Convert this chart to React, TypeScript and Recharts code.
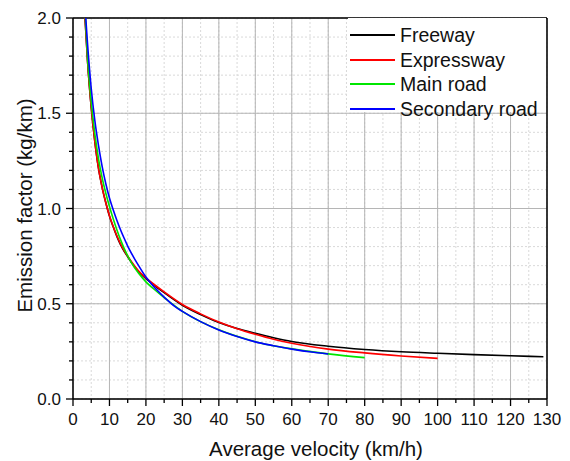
import React from 'react';
import { LineChart, Line, XAxis, YAxis, CartesianGrid, ReferenceLine, Legend } from 'recharts';

const xTicks = [0, 5, 10, 15, 20, 25, 30, 35, 40, 45, 50, 55, 60, 65, 70, 75, 80, 85, 90, 95, 100, 105, 110, 115, 120, 125, 130];
const xMajor = [0, 10, 20, 30, 40, 50, 60, 70, 80, 90, 100, 110, 120, 130];
const yTicks = [0, 0.1, 0.2, 0.3, 0.4, 0.5, 0.6, 0.7, 0.8, 0.9, 1.0, 1.1, 1.2, 1.3, 1.4, 1.5, 1.6, 1.7, 1.8, 1.9, 2.0];
const yMajor = [0, 0.5, 1.0, 1.5, 2.0];

const freeway = [
  { v: 3.3, e: 2.0 }, { v: 4, e: 1.77 }, { v: 5, e: 1.53 }, { v: 6, e: 1.35 }, { v: 7, e: 1.21 },
  { v: 8, e: 1.11 }, { v: 9, e: 1.03 }, { v: 10, e: 0.96 }, { v: 11, e: 0.905 }, { v: 12, e: 0.855 },
  { v: 13, e: 0.812 }, { v: 14, e: 0.777 }, { v: 15, e: 0.747 }, { v: 16, e: 0.718 }, { v: 18, e: 0.668 },
  { v: 20, e: 0.632 }, { v: 22, e: 0.601 }, { v: 25, e: 0.558 }, { v: 30, e: 0.492 }, { v: 35, e: 0.443 },
  { v: 40, e: 0.401 }, { v: 45, e: 0.37 }, { v: 50, e: 0.345 }, { v: 55, e: 0.322 }, { v: 60, e: 0.302 },
  { v: 70, e: 0.277 }, { v: 80, e: 0.26 }, { v: 90, e: 0.248 }, { v: 100, e: 0.24 }, { v: 110, e: 0.233 },
  { v: 120, e: 0.227 }, { v: 129, e: 0.222 },
];

const expressway = [
  { v: 3.3, e: 2.0 }, { v: 4, e: 1.77 }, { v: 5, e: 1.53 }, { v: 6, e: 1.35 }, { v: 7, e: 1.21 },
  { v: 8, e: 1.11 }, { v: 9, e: 1.03 }, { v: 10, e: 0.962 }, { v: 11, e: 0.907 }, { v: 12, e: 0.858 },
  { v: 13, e: 0.816 }, { v: 14, e: 0.78 }, { v: 15, e: 0.75 }, { v: 16, e: 0.722 }, { v: 18, e: 0.672 },
  { v: 20, e: 0.636 }, { v: 22, e: 0.605 }, { v: 25, e: 0.562 }, { v: 30, e: 0.496 }, { v: 35, e: 0.447 },
  { v: 40, e: 0.404 }, { v: 45, e: 0.369 }, { v: 50, e: 0.34 }, { v: 55, e: 0.314 }, { v: 60, e: 0.293 },
  { v: 70, e: 0.262 }, { v: 80, e: 0.242 }, { v: 90, e: 0.226 }, { v: 100, e: 0.213 },
];

const mainRoad = [
  { v: 3.4, e: 2.0 }, { v: 4, e: 1.79 }, { v: 5, e: 1.56 }, { v: 6, e: 1.39 }, { v: 7, e: 1.26 },
  { v: 8, e: 1.16 }, { v: 9, e: 1.08 }, { v: 10, e: 1.01 }, { v: 11, e: 0.947 }, { v: 12, e: 0.89 },
  { v: 13, e: 0.838 }, { v: 14, e: 0.792 }, { v: 15, e: 0.752 }, { v: 16, e: 0.716 }, { v: 18, e: 0.66 },
  { v: 20, e: 0.615 }, { v: 22, e: 0.58 }, { v: 25, e: 0.532 }, { v: 30, e: 0.46 }, { v: 35, e: 0.406 },
  { v: 40, e: 0.363 }, { v: 50, e: 0.301 }, { v: 60, e: 0.263 }, { v: 70, e: 0.237 }, { v: 80, e: 0.217 },
];

const secondaryRoad = [
  { v: 3.5, e: 2.0 }, { v: 4, e: 1.86 }, { v: 5, e: 1.63 }, { v: 6, e: 1.46 }, { v: 7, e: 1.33 },
  { v: 8, e: 1.22 }, { v: 9, e: 1.13 }, { v: 10, e: 1.055 }, { v: 11, e: 0.995 }, { v: 12, e: 0.94 },
  { v: 13, e: 0.89 }, { v: 14, e: 0.845 }, { v: 15, e: 0.803 }, { v: 16, e: 0.766 }, { v: 17, e: 0.732 },
  { v: 18, e: 0.7 }, { v: 20, e: 0.64 }, { v: 22, e: 0.593 }, { v: 25, e: 0.535 }, { v: 28, e: 0.485 },
  { v: 30, e: 0.46 }, { v: 35, e: 0.406 }, { v: 40, e: 0.362 }, { v: 45, e: 0.328 }, { v: 50, e: 0.3 },
  { v: 55, e: 0.28 }, { v: 60, e: 0.262 }, { v: 65, e: 0.248 }, { v: 70, e: 0.236 },
];

const series = [
  { name: 'Freeway', color: '#000000', data: freeway },
  { name: 'Expressway', color: '#ff0000', data: expressway },
  { name: 'Main road', color: '#00e600', data: mainRoad },
  { name: 'Secondary road', color: '#0000ff', data: secondaryRoad },
];

const FONT = '"Liberation Sans", Arial, Helvetica, sans-serif';
const TXT = '#111111';

const XTick = (props: any) => {
  const { x, y, payload } = props;
  const major = xMajor.some((m) => Math.abs(m - payload.value) < 1e-6);
  return (
    <g>
      <line x1={x} x2={x} y1={y} y2={y + (major ? 7 : 4)} stroke="#000" strokeWidth={1.3} />
      {major && (
        <text x={x} y={y + 26} textAnchor="middle" fontSize={17} fontFamily={FONT} fill={TXT}>
          {payload.value}
        </text>
      )}
    </g>
  );
};

const YTick = (props: any) => {
  const { x, y, payload } = props;
  const major = yMajor.some((m) => Math.abs(m - payload.value) < 1e-6);
  return (
    <g>
      <line x1={x - (major ? 7 : 4)} x2={x} y1={y} y2={y} stroke="#000" strokeWidth={1.3} />
      {major && (
        <text x={x - 12} y={y + 6} textAnchor="end" fontSize={17} fontFamily={FONT} fill={TXT}>
          {Number(payload.value).toFixed(1)}
        </text>
      )}
    </g>
  );
};

const XTitle = (props: any) => {
  const vb = props.viewBox || { x: 73, y: 399, width: 474, height: 62 };
  return (
    <text x={vb.x + vb.width / 2 + 6} y={vb.y + 57} textAnchor="middle" fontSize={20.5} fontFamily={FONT} fill={TXT}>
      Average velocity (km/h)
    </text>
  );
};

const YTitle = (props: any) => {
  const vb = props.viewBox || { x: 0, y: 18, width: 73, height: 381 };
  const cx = vb.x + 32;
  const cy = vb.y + vb.height / 2 - 3;
  return (
    <text x={cx} y={cy} transform={`rotate(-90, ${cx}, ${cy})`} textAnchor="middle" fontSize={20.5} fontFamily={FONT} fill={TXT}>
      Emission factor (kg/km)
    </text>
  );
};

const LegendBox = () => (
  <div style={{ background: '#fff', width: 198, height: 94, paddingTop: 5, boxSizing: 'border-box', fontFamily: FONT }}>
    {series.map((s) => (
      <div key={s.name} style={{ display: 'flex', alignItems: 'center', height: 24.5 }}>
        <div style={{ width: 45, height: 1.6, background: s.color, marginLeft: 2, marginRight: 5 }} />
        <span style={{ fontSize: 19.5, color: TXT, lineHeight: '24px', whiteSpace: 'nowrap' }}>{s.name}</span>
      </div>
    ))}
  </div>
);

export default function App() {
  return (
    <div style={{ position: 'absolute', left: 0, top: 0, width: 570, height: 461, background: '#fff' }}>
      <LineChart width={570} height={461} margin={{ top: 18, right: 23, bottom: 0, left: 0 }}>
        <CartesianGrid verticalValues={xTicks} horizontalValues={yTicks} stroke="#d9d9d9" strokeDasharray="2 2" />
        <CartesianGrid verticalValues={xMajor} horizontalValues={yMajor} stroke="#b5b5b5" />
        <XAxis
          type="number"
          dataKey="v"
          domain={[0, 130]}
          ticks={xTicks}
          interval={0}
          allowDataOverflow
          height={62}
          tickSize={0}
          tickMargin={0}
          tickLine={false}
          tick={<XTick />}
          axisLine={{ stroke: '#000', strokeWidth: 1.5 }}
          label={<XTitle />}
        />
        <YAxis
          type="number"
          dataKey="e"
          domain={[0, 2]}
          ticks={yTicks}
          interval={0}
          allowDataOverflow
          width={73}
          tickSize={0}
          tickMargin={0}
          tickLine={false}
          tick={<YTick />}
          axisLine={{ stroke: '#000', strokeWidth: 1.5 }}
          label={<YTitle />}
        />
        <ReferenceLine y={2} stroke="#000" strokeWidth={1.5} />
        <ReferenceLine x={130} stroke="#000" strokeWidth={1.5} />
        {series.map((s) => (
          <Line
            key={s.name}
            name={s.name}
            data={s.data}
            dataKey="e"
            type="monotone"
            stroke={s.color}
            strokeWidth={1.6}
            dot={false}
            activeDot={false}
            isAnimationActive={false}
          />
        ))}
        <Legend
          layout="vertical"
          align="center"
          verticalAlign="middle"
          wrapperStyle={{ position: 'absolute', left: 348, top: 18, width: 198, height: 94 }}
          content={() => <LegendBox />}
        />
      </LineChart>
    </div>
  );
}
